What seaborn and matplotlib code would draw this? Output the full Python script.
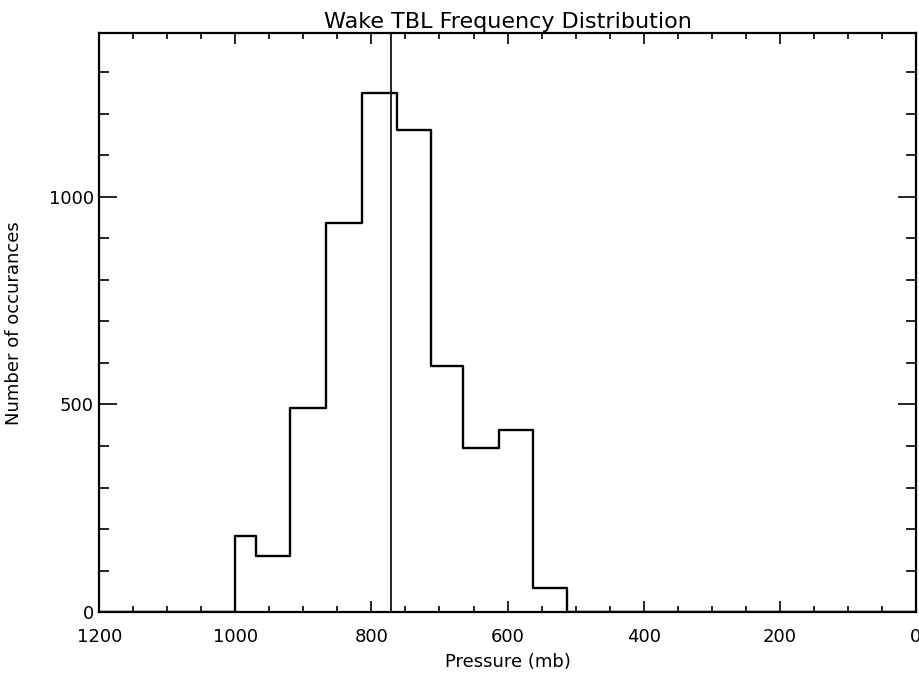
import numpy as np
import pandas as pd
import matplotlib
matplotlib.use("Agg")
import matplotlib.pyplot as plt
import seaborn as sns

# Data
bin_edges = [1000, 970, 920, 867, 814, 763, 712, 665, 613, 563, 512]   # mb
counts = [184, 136, 492, 936, 1250, 1160, 593, 395, 439, 58]
mean_pressure = 771
x_range = [1200, 0]
x_ticks = [1200, 1000, 800, 600, 400, 200, 0]
y_ticks = [0, 500, 1000]

title = "Wake TBL Frequency Distribution"
xlabel = "Pressure (mb)"
ylabel = "Number of occurances"

sns.set_style("ticks")
plt.rcParams['font.family'] = ['DejaVu Sans']
plt.rcParams['text.color'] = 'black'
plt.rcParams['axes.labelcolor'] = 'black'
plt.rcParams['xtick.color'] = 'black'
plt.rcParams['ytick.color'] = 'black'

# empty bins on both sides so the outline runs along zero across the full range
all_edges = sorted(bin_edges + x_range)
centers = [(bin_edges[i] + bin_edges[i + 1]) / 2 for i in range(len(counts))]
centers += [(x_range[0] + bin_edges[0]) / 2, (bin_edges[-1] + x_range[1]) / 2]
weights = counts + [0, 0]
df = pd.DataFrame({"p": centers, "n": weights})

fig = plt.figure(figsize=(9.19, 6.76), dpi=100)
ax = fig.add_axes([0.1081, 0.0942, 0.9964 - 0.1081, 0.9507 - 0.0942])

sns.histplot(data=df, x="p", weights="n", bins=all_edges, element="step",
             fill=False, color="black", linewidth=1.7, ax=ax)
ax.axvline(mean_pressure, color="black", linewidth=1.2)

ax.set_xlim(1200, 0)
ax.set_ylim(0, 1393)
ax.set_xticks(x_ticks)
ax.set_xticklabels([str(t) for t in x_ticks])
ax.set_yticks(y_ticks)
ax.set_yticklabels([str(t) for t in y_ticks])
ax.set_xticks(np.arange(0, 1201, 50), minor=True)
ax.set_yticks(np.arange(0, 1393, 100), minor=True)

ax.tick_params(axis="both", which="both", direction="in", top=True, right=True,
               labeltop=False, labelright=False, color="black", width=1.2)
ax.tick_params(axis="x", which="major", length=8, labelsize=13, pad=11)
ax.tick_params(axis="x", which="minor", length=4)
ax.tick_params(axis="y", which="major", length=13, labelsize=13, pad=4)
ax.tick_params(axis="y", which="minor", length=7)

for s in ax.spines.values():
    s.set_visible(True)
    s.set_linewidth(1.6)
    s.set_color("black")

ax.set_title(title, fontsize=16, pad=4, color="black")
ax.set_xlabel(xlabel, fontsize=13, labelpad=5)
ax.set_ylabel(ylabel, fontsize=13)
ax.yaxis.set_label_coords(-0.094, 0.5)

fig.savefig("out.png", dpi=100)
